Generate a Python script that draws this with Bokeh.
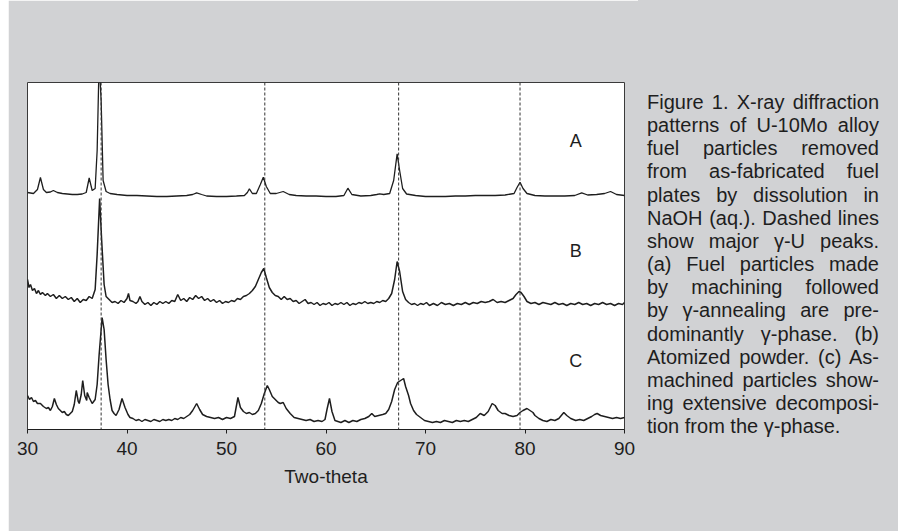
from bokeh.plotting import figure
from bokeh.models import Range1d, FixedTicker, Span, ColumnDataSource, Div, Spacer
from bokeh.layouts import row
from bokeh.core.properties import value
from bokeh.embed import file_html
from bokeh.resources import INLINE

# ---------------- data ----------------
a_x = [30.0, 30.6, 31.0, 31.3, 31.6, 31.9, 32.3, 32.6, 33.0, 33.5, 34.0, 34.5, 35.0, 35.5, 35.9,
       36.2, 36.5, 36.8, 37.0, 37.2, 37.4, 37.6, 37.9, 38.3, 39.0, 40.0, 41.0, 42.0, 43.0, 44.0,
       45.0, 46.0, 46.6, 47.0, 47.5, 48.0, 49.0, 50.0, 51.0, 51.8, 52.1, 52.3, 52.6, 53.0, 53.4,
       53.7, 54.0, 54.4, 55.0, 55.7, 56.3, 57.0, 58.0, 59.0, 60.0, 61.0, 61.8, 62.2, 62.6, 63.5,
       64.5, 65.1, 65.4, 65.8, 66.4, 66.8, 67.15, 67.4, 67.7, 68.1, 69.0, 70.0, 71.0, 72.0, 73.0,
       74.0, 75.0, 76.0, 77.0, 78.0, 78.9, 79.2, 79.5, 79.8, 80.2, 81.0, 82.0, 83.0, 84.0, 85.0,
       85.7, 86.3, 87.2, 88.0, 88.6, 89.2, 90.0]
a_y = [237, 236, 240, 252, 240, 237, 237.5, 239, 237, 236, 235.5, 235, 235, 235.5, 237,
       251.5, 239, 241, 279, 369, 329, 249, 238, 236, 235, 234, 234, 233.5, 233, 233,
       233.5, 234, 235, 236.7, 235, 233.5, 233, 233, 233.5, 234, 237, 240.7, 236, 236, 245,
       252.3, 243, 236, 236, 238, 235, 234, 233.5, 233.5, 233, 233, 234, 241.3, 235, 233.5,
       234, 235, 235.7, 235, 236, 249, 275.7, 259, 241, 235.5, 234, 233, 233, 233, 233.5,
       233.5, 234, 234, 234, 234.5, 236, 242, 247.3, 241, 236, 234, 233.5, 233.5, 233.5, 234,
       236.7, 234.5, 235, 236, 238, 235, 234]

b_x = [30.0, 30.15, 30.3, 30.5, 30.7, 30.9, 31.1, 31.3, 31.5, 31.8, 32.0, 32.3, 32.6, 32.9, 33.2,
       33.5, 33.8, 34.1, 34.4, 34.7, 35.0, 35.3, 35.6, 35.9, 36.2, 36.5, 36.8, 37.0, 37.25, 37.45,
       37.7, 37.9, 38.2, 38.5, 38.8, 39.1, 39.4, 39.7, 40.0, 40.15, 40.3, 40.6, 40.9, 41.1, 41.3,
       41.5, 41.8, 42.1, 42.4, 42.7, 43.0, 43.3, 43.6, 43.9, 44.2, 44.5, 44.8, 45.1, 45.4, 45.7,
       46.0, 46.3, 46.6, 46.9, 47.2, 47.5, 47.8, 48.1, 48.4, 48.7, 49.0, 49.3, 49.6, 49.9, 50.2,
       50.5, 50.8, 51.1, 51.4, 51.7, 52.0, 52.3, 52.6, 52.9, 53.2, 53.5, 53.75, 54.0, 54.3, 54.6,
       54.9, 55.2, 55.5, 55.8, 56.1, 56.4, 56.7, 57.0, 57.3, 57.6, 57.9, 58.2, 58.5, 58.8, 59.1,
       59.4, 59.7, 60.0, 60.3, 60.6, 60.9, 61.2, 61.5, 61.8, 62.1, 62.4, 62.7, 63.0, 63.3, 63.6,
       63.9, 64.2, 64.5, 64.8, 65.1, 65.4, 65.7, 66.0, 66.3, 66.6, 66.9, 67.15, 67.4, 67.7, 68.0,
       68.3, 68.6, 68.9, 69.2, 69.5, 69.8, 70.1, 70.4, 70.8, 71.2, 71.6, 72.0, 72.4, 72.8, 73.2,
       73.6, 74.0, 74.4, 74.8, 75.2, 75.6, 76.0, 76.4, 76.8, 77.2, 77.6, 78.0, 78.4, 78.8, 79.1,
       79.4, 79.6, 79.9, 80.2, 80.6, 81.0, 81.4, 81.8, 82.2, 82.6, 83.0, 83.4, 83.8, 84.2, 84.6,
       85.0, 85.4, 85.8, 86.2, 86.6, 87.0, 87.4, 87.8, 88.2, 88.6, 89.0, 89.4, 89.8, 90.0]
b_y = [150, 142, 145, 139, 141, 136, 139, 135, 137, 134, 136, 133, 135, 131, 134,
       131, 133, 130, 132, 128, 131, 127, 130, 129, 133, 131, 140, 175, 231, 190,
       145, 133, 130, 127, 128, 126, 129, 127, 131, 136, 129, 128, 126, 128, 133,
       128, 125, 127, 124, 127, 125, 128, 126, 128, 126, 129, 128, 135, 129, 131,
       128, 132, 130, 134, 131, 133, 129, 131, 128, 130, 127, 129, 126, 128, 127,
       129, 128, 131, 130, 133, 134, 136, 139, 143, 150, 157, 161, 152, 142, 137,
       134, 133, 130, 133, 130, 131, 128, 129, 126, 128, 130, 126, 127, 125, 127,
       124, 126, 125, 127, 124, 126, 125, 127, 125, 127, 124, 126, 125, 127, 126,
       128, 126, 127, 126, 128, 127, 129, 128, 131, 136, 150, 168, 158, 138, 130,
       127, 125, 126, 124, 126, 125, 127, 124, 126, 124, 127, 125, 126, 124, 126,
       125, 127, 125, 127, 126, 128, 127, 128, 130, 127, 128, 127, 129, 131, 135,
       138, 137, 133, 128, 126, 127, 125, 127, 126, 125, 127, 125, 126, 124, 126,
       125, 127, 125, 126, 124, 126, 125, 127, 125, 126, 124, 126, 125, 127]

c_x = [30.0, 30.2, 30.4, 30.6, 30.8, 31.0, 31.3, 31.6, 31.9, 32.1, 32.3, 32.5, 32.7, 32.9, 33.1,
       33.3, 33.5, 33.7, 33.9, 34.1, 34.3, 34.5, 34.7, 34.9, 35.1, 35.2, 35.4, 35.55, 35.75, 35.95,
       36.0, 36.2, 36.5, 36.8, 37.0, 37.2, 37.5, 37.7, 37.9, 38.1, 38.3, 38.5, 38.7, 38.9, 39.2,
       39.5, 39.8, 40.1, 40.3, 40.6, 40.9, 41.2, 41.5, 41.8, 42.1, 42.4, 42.7, 43.0, 43.3, 43.6,
       43.9, 44.2, 44.5, 44.8, 45.1, 45.4, 45.7, 46.0, 46.3, 46.6, 47.0, 47.3, 47.6, 48.0, 48.4,
       48.8, 49.2, 49.6, 50.0, 50.4, 50.8, 51.15, 51.4, 51.7, 52.0, 52.3, 52.6, 52.9, 53.2, 53.5,
       53.8, 54.1, 54.3, 54.6, 54.9, 55.2, 55.4, 55.7, 56.0, 56.4, 56.8, 57.2, 57.6, 58.0, 58.4,
       58.8, 59.2, 59.6, 59.9, 60.1, 60.35, 60.6, 60.9, 61.2, 61.5, 61.9, 62.3, 62.7, 63.1, 63.5,
       63.9, 64.3, 64.6, 64.9, 65.3, 65.7, 66.0, 66.3, 66.6, 66.9, 67.2, 67.5, 67.8, 68.0, 68.3,
       68.5, 68.8, 69.1, 69.5, 69.9, 70.3, 70.7, 71.1, 71.5, 71.9, 72.3, 72.7, 73.1, 73.5, 73.9,
       74.3, 74.7, 75.1, 75.5, 75.9, 76.3, 76.7, 77.0, 77.3, 77.7, 78.0, 78.4, 78.8, 79.2, 79.5,
       79.8, 80.2, 80.5, 80.8, 81.0, 81.4, 81.8, 82.2, 82.6, 83.0, 83.4, 83.9, 84.2, 84.6, 85.1,
       85.5, 85.9, 86.3, 86.7, 87.0, 87.25, 87.6, 88.0, 88.4, 88.8, 89.2, 89.6, 90.0]
c_y = [34, 30, 32, 28, 29, 26, 26, 23, 21, 22, 19, 23, 31, 25, 21,
       19, 17, 18, 15, 14, 16, 18, 25, 39, 28, 26, 35, 49, 34, 29,
       37, 32, 26, 30, 45, 75, 112, 100, 70, 45, 30, 19, 16, 14, 20,
       31, 22, 15, 12, 11, 9, 10, 8, 10, 9, 8, 10, 9, 8, 10,
       9, 10, 9, 11, 10, 12, 11, 13, 15, 19, 26, 20, 15, 13, 12,
       11, 12, 10, 12, 11, 13, 32, 22, 18, 16, 17, 15, 16, 19, 26,
       36, 44, 40, 33, 30, 27, 26, 27, 21, 16, 12, 11, 10, 9, 10,
       8, 9, 8, 10, 20, 31, 18, 9, 8, 7, 9, 7, 9, 8, 10,
       11, 13, 16, 13, 14, 15, 16, 20, 28, 40, 47, 49, 51, 43, 34,
       26, 19, 15, 12, 9, 8, 7, 8, 7, 9, 8, 7, 9, 8, 9,
       8, 10, 12, 16, 14, 18, 26, 24, 19, 16, 16, 14, 13, 14, 17,
       19, 21, 19, 17, 14, 11, 9, 8, 10, 9, 11, 17, 14, 11, 9,
       10, 9, 11, 13, 15, 16, 14, 13, 12, 11, 12, 11, 12]

gamma_u_peaks = [37.4, 53.85, 67.3, 79.5]
x_ticks = [30, 40, 50, 60, 70, 80, 90]
trace_labels = ["A", "B", "C"]
label_x = [85.1, 85.1, 85.1]
label_y = [289, 179, 69]
x_label = "Two-theta"

caption_lines = [
    "Figure 1. X-ray diffraction",
    "patterns of U-10Mo alloy",
    "fuel particles removed",
    "from as-fabricated fuel",
    "plates by dissolution in",
    "NaOH (aq.). Dashed lines",
    "show major γ-U peaks.",
    "(a) Fuel particles made",
    "by machining followed",
    "by γ-annealing are pre-",
    "dominantly γ-phase. (b)",
    "Atomized powder. (c) As-",
    "machined particles show-",
    "ing extensive decomposi-",
    "tion from the γ-phase.",
]

# ---------------- styling / layout constants ----------------
GREY = "#d1d2d4"
INK = "#1e1e1e"
FONT = "Liberation Sans"
LEFT_GAP = 8
W, H = 630, 531
BL, BR, BT, BB = 19, 14, 82, 102
X0, X1 = 30, 90
Y0, Y1 = 0, 347

p = figure(width=W, height=H, output_backend="svg", toolbar_location=None,
           x_range=Range1d(X0, X1), y_range=Range1d(Y0, Y1),
           y_axis_location=None,
           min_border_left=BL, min_border_right=BR, min_border_top=BT, min_border_bottom=BB)
p.background_fill_color = "white"
p.border_fill_color = GREY
p.outline_line_color = "#3a3a3a"
p.outline_line_width = 1
p.grid.visible = False

for xs, ys, w in ((a_x, a_y, 1.3), (b_x, b_y, 1.5), (c_x, c_y, 1.5)):
    p.line(xs, ys, line_color=INK, line_width=w)

for g in gamma_u_peaks:
    p.add_layout(Span(location=g, dimension="height", line_color="#333333",
                      line_width=1, line_dash="3 2"))

src = ColumnDataSource(dict(x=label_x, y=label_y, t=trace_labels))
p.text(x="x", y="y", text="t", source=src, text_align="center", text_baseline="middle",
       text_font=value(FONT), text_font_size="18px", text_color=INK)

ax = p.xaxis[0]
ax.ticker = FixedTicker(ticks=x_ticks)
ax.axis_line_color = INK
ax.major_tick_line_color = INK
ax.major_tick_out = 4
ax.major_tick_in = 0
ax.minor_tick_line_color = None
ax.major_label_text_font = FONT
ax.major_label_text_font_size = "19px"
ax.major_label_text_color = INK
ax.major_label_standoff = 8
ax.axis_label = x_label
ax.axis_label_text_font = FONT
ax.axis_label_text_font_size = "19px"
ax.axis_label_text_font_style = "normal"
ax.axis_label_text_color = INK
ax.axis_label_standoff = 8

# ---------------- justified caption panel ----------------
CW, CH = 260, 531
line_html = []
for i, ln in enumerate(caption_lines):
    last = i == len(caption_lines) - 1
    align = "text-align:left;" if last else "text-align:justify;text-align-last:justify;"
    line_html.append(f'<div style="{align}white-space:nowrap;">{ln}</div>')

html = (f'<div style="box-sizing:border-box;width:{CW}px;height:{CH}px;background:{GREY};'
        f'margin:0;padding:91px 19px 0 9px;font-family:\'{FONT}\',Arial,sans-serif;'
        f'font-size:20px;line-height:23.15px;color:{INK};">' + "".join(line_html) + '</div>')
cap = Div(text=html, width=CW, height=CH, margin=(0, 0, 0, 0),
          styles={"background-color": GREY, "margin": "0", "padding": "0"})

layout = row(Spacer(width=LEFT_GAP, height=H), p, cap, spacing=0)
open("out.html", "w").write(file_html(layout, INLINE))
